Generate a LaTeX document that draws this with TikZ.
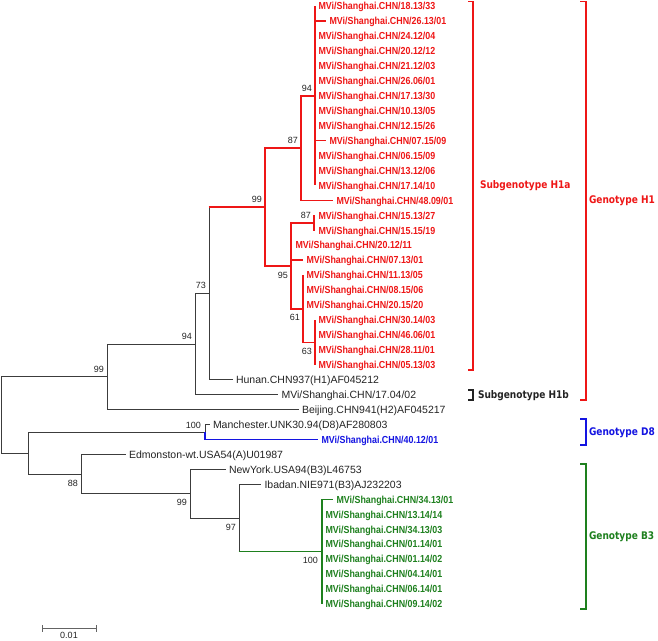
\documentclass[tikz,border=0pt]{standalone}
\usepackage{fontspec}
\usetikzlibrary{calc}
\setmainfont{Liberation Sans}
\newfontfamily\leaffont{Liberation Sans}
\newfontfamily\boldnarrow[FakeStretch=0.87]{Liberation Sans}
\newfontfamily\grpfont[FakeStretch=0.86]{DejaVu Sans}
\definecolor{tred}{RGB}{238,22,22}
\definecolor{tblue}{RGB}{20,20,225}
\definecolor{tgreen}{RGB}{30,128,30}
\definecolor{tline}{RGB}{60,60,60}
\definecolor{ttext}{RGB}{35,35,35}
\definecolor{tscale}{RGB}{100,100,100}
\begin{document}
\begin{tikzpicture}[x=1pt,y=-1pt,
  blk/.style={draw=tline,line width=0.9pt},
  redl/.style={draw=tred,line width=1.6pt},
  bluel/.style={draw=tblue,line width=1.2pt},
  greenl/.style={draw=tgreen,line width=1.4pt},
  leaf/.style={anchor=west,inner xsep=3.5pt,inner ysep=0pt,outer sep=0pt,text height=7.5pt,text depth=0pt},
  bk/.style={leaf,text=ttext,font=\leaffont\fontsize{10.5}{12}\selectfont},
  rb/.style={leaf,text=tred,font=\boldnarrow\bfseries\fontsize{10.2}{12}\selectfont},
  bb/.style={rb,text=tblue},
  gb/.style={rb,text=tgreen},
  bsnum/.style={inner sep=0pt,outer sep=0pt,text=ttext,font=\leaffont\fontsize{9}{10}\selectfont,text height=6.4pt,text depth=0pt},
  bsup/.style={bsnum,anchor=south east},
  bsdn/.style={bsnum,anchor=north east},
  grp/.style={anchor=west,inner sep=0pt,outer sep=0pt,font=\grpfont\bfseries\fontsize{10.5}{12}\selectfont,text height=7.6pt,text depth=0pt},
  brk/.style={line width=1.5pt}
]
\useasboundingbox (0,0) rectangle (658,640);

% internal nodes
\coordinate (root) at (1.5,415.0);
\coordinate (nX) at (28,453.1);
\coordinate (n99b) at (107,376.8);
\coordinate (n94b) at (195,344.0);
\coordinate (n73) at (209,293.3);
\coordinate (n99a) at (265,206.9);
\coordinate (n87a) at (301,148.0);
\coordinate (n94) at (315,95.7);
\coordinate (n95) at (291,265.8);
\coordinate (n87b) at (314,222.8);
\coordinate (n61) at (303,308.75);
\coordinate (n63) at (315,342.4);
\coordinate (nD8) at (205,432.1);
\coordinate (n88) at (81,474.1);
\coordinate (n99c) at (190,493.7);
\coordinate (n97) at (239,518.0);
\coordinate (nB3) at (322,551.7);

% leaves
\node[rb] (l0) at (315,6.0) {MVi/Shanghai.CHN/18.13/33};
\node[rb] (l1) at (326,20.95) {MVi/Shanghai.CHN/26.13/01};
\node[rb] (l2) at (315,35.9) {MVi/Shanghai.CHN/24.12/04};
\node[rb] (l3) at (315,50.85) {MVi/Shanghai.CHN/20.12/12};
\node[rb] (l4) at (315,65.8) {MVi/Shanghai.CHN/21.12/03};
\node[rb] (l5) at (315,80.75) {MVi/Shanghai.CHN/26.06/01};
\node[rb] (l6) at (315,95.7) {MVi/Shanghai.CHN/17.13/30};
\node[rb] (l7) at (315,110.65) {MVi/Shanghai.CHN/10.13/05};
\node[rb] (l8) at (315,125.6) {MVi/Shanghai.CHN/12.15/26};
\node[rb] (l9) at (326,140.55) {MVi/Shanghai.CHN/07.15/09};
\node[rb] (l10) at (315,155.5) {MVi/Shanghai.CHN/06.15/09};
\node[rb] (l11) at (315,170.45) {MVi/Shanghai.CHN/13.12/06};
\node[rb] (l12) at (315,185.4) {MVi/Shanghai.CHN/17.14/10};
\node[rb] (l13) at (333,200.35) {MVi/Shanghai.CHN/48.09/01};
\node[rb] (l14) at (315,215.3) {MVi/Shanghai.CHN/15.13/27};
\node[rb] (l15) at (315,230.25) {MVi/Shanghai.CHN/15.15/19};
\node[rb] (l16) at (292,245.2) {MVi/Shanghai.CHN/20.12/11};
\node[rb] (l17) at (303,260.15) {MVi/Shanghai.CHN/07.13/01};
\node[rb] (l18) at (303,275.1) {MVi/Shanghai.CHN/11.13/05};
\node[rb] (l19) at (303,290.05) {MVi/Shanghai.CHN/08.15/06};
\node[rb] (l20) at (303,305.0) {MVi/Shanghai.CHN/20.15/20};
\node[rb] (l21) at (315,319.95) {MVi/Shanghai.CHN/30.14/03};
\node[rb] (l22) at (315,334.9) {MVi/Shanghai.CHN/46.06/01};
\node[rb] (l23) at (315,349.85) {MVi/Shanghai.CHN/28.11/01};
\node[rb] (l24) at (315,364.8) {MVi/Shanghai.CHN/05.13/03};
\node[bk] (l25) at (232.5,379.75) {Hunan.CHN937(H1)AF045212};
\node[bk] (l26) at (278,394.7) {MVi/Shanghai.CHN/17.04/02};
\node[bk] (l27) at (298.5,409.65) {Beijing.CHN941(H2)AF045217};
\node[bk] (l28) at (209.5,424.6) {Manchester.UNK30.94(D8)AF280803};
\node[bb] (l29) at (318,439.55) {MVi/Shanghai.CHN/40.12/01};
\node[bk] (l30) at (125.5,454.5) {Edmonston-wt.USA54(A)U01987};
\node[bk] (l31) at (225.5,469.45) {NewYork.USA94(B3)L46753};
\node[bk] (l32) at (261,484.4) {Ibadan.NIE971(B3)AJ232203};
\node[gb] (l33) at (333,499.35) {MVi/Shanghai.CHN/34.13/01};
\node[gb] (l34) at (322,514.3) {MVi/Shanghai.CHN/13.14/14};
\node[gb] (l35) at (322,529.25) {MVi/Shanghai.CHN/34.13/03};
\node[gb] (l36) at (322,544.2) {MVi/Shanghai.CHN/01.14/01};
\node[gb] (l37) at (322,559.15) {MVi/Shanghai.CHN/01.14/02};
\node[gb] (l38) at (322,574.1) {MVi/Shanghai.CHN/04.14/01};
\node[gb] (l39) at (322,589.05) {MVi/Shanghai.CHN/06.14/01};
\node[gb] (l40) at (322,604.0) {MVi/Shanghai.CHN/09.14/02};

% branches, H1a clade
\foreach \i in {0,...,12} \draw[redl] (n94) |- (l\i.west);
\draw[redl] (n87a) |- (n94);
\draw[redl] (n87a) |- (l13.west);
\draw[redl] (n99a) |- (n87a);
\draw[redl] (n99a) |- (n95);
\draw[redl] (n95) |- (n87b);
\draw[redl] (n95) |- (l16.west);
\draw[redl] (n95) |- (l17.west);
\draw[redl] (n95) |- (n61);
\foreach \i in {14,15} \draw[redl] (n87b) |- (l\i.west);
\foreach \i in {18,19,20} \draw[redl] (n61) |- (l\i.west);
\draw[redl] (n61) |- (n63);
\foreach \i in {21,...,24} \draw[redl] (n63) |- (l\i.west);
\draw[blk] (n73) -- (n73 |- n99a);
\draw[redl] ([xshift=-0.45pt]n73 |- n99a) -- (n99a);

% rest of the tree
\draw[blk] (n73) |- (l25.west);
\draw[blk] (n94b) |- (n73);
\draw[blk] (n94b) |- (l26.west);
\draw[blk] (n99b) |- (n94b);
\draw[blk] (n99b) |- (l27.west);
\draw[blk] (root) |- (n99b);
\draw[blk] (root) |- (nX);
\draw[blk] (nX) |- (nD8);
\draw[blk] (nX) |- (n88);
\draw[blk] (nD8) |- (l28.west);
\draw[bluel] (nD8) |- (l29.west);
\draw[blk] (n88) |- (l30.west);
\draw[blk] (n88) |- (n99c);
\draw[blk] (n99c) |- (l31.west);
\draw[blk] (n99c) |- (n97);
\draw[blk] (n97) |- (l32.west);
\draw[blk] (n97) -- (n97 |- nB3);
\draw[greenl] ([xshift=-0.45pt]n97 |- nB3) -- (nB3);
\foreach \i in {33,...,40} \draw[greenl] (nB3) |- (l\i.west);

% bootstrap values
\node[bsup] (b94a) at ([shift={(-3pt,4.5pt)}]n94) {94};
\node[bsup] (b87a) at ([shift={(-3pt,4.5pt)}]n87a) {87};
\node[bsup] (b99a) at ([shift={(-3pt,4.5pt)}]n99a) {99};
\node[bsup] (b73) at ([shift={(-3pt,4.5pt)}]n73) {73};
\node[bsup] (b94b) at ([shift={(-3pt,4.5pt)}]n94b) {94};
\node[bsup] (b99b) at ([shift={(-3pt,4.5pt)}]n99b) {99};
\node[bsup] (b87b) at ([shift={(-3pt,4.5pt)}]n87b) {87};
\node[bsup] (b100a) at ([shift={(-4pt,4pt)}]nD8) {100};
\node[bsdn] (b95) at ([shift={(-3pt,-5.8pt)}]n95) {95};
\node[bsdn] (b61) at ([shift={(-3pt,-5.8pt)}]n61) {61};
\node[bsdn] (b63) at ([shift={(-3pt,-5.8pt)}]n63) {63};
\node[bsdn] (b88) at ([shift={(-3pt,-5.8pt)}]n88) {88};
\node[bsdn] (b99c) at ([shift={(-3pt,-5.8pt)}]n99c) {99};
\node[bsdn] (b97) at ([shift={(-3pt,-5.8pt)}]n97) {97};
\node[bsdn] (b100b) at ([shift={(-4pt,-5.8pt)}]nB3) {100};

% group brackets
\draw[brk,tred] (468,1.5) -- (473,1.5) -- (473,370) -- (468,370);
\node[grp,text=tred] (gH1a) at (480,185) {Subgenotype H1a};
\draw[brk,ttext] (468,390) -- (473,390) -- (473,400) -- (468,400);
\node[grp,text=ttext] (gH1b) at (478,394.5) {Subgenotype H1b};
\draw[brk,tred] (580,1.5) -- (586,1.5) -- (586,400) -- (580,400);
\node[grp,text=tred] (gH1) at (589,200) {Genotype H1};
\draw[brk,tblue] (580,419) -- (586,419) -- (586,445) -- (580,445);
\node[grp,text=tblue] (gD8) at (589,432) {Genotype D8};
\draw[brk,tgreen] (580,464) -- (586,464) -- (586,609) -- (580,609);
\node[grp,text=tgreen] (gB3) at (589,536) {Genotype B3};

% scale bar
\coordinate (sa) at (42,628);
\coordinate (sb) at (96,628);
\draw[draw=tscale,line width=1pt] (sa) -- (sb);
\draw[draw=tscale,line width=0.9pt] ([yshift=-3.5pt]sa) -- ([yshift=3.5pt]sa);
\draw[draw=tscale,line width=0.9pt] ([yshift=-3.5pt]sb) -- ([yshift=3.5pt]sb);
\node[bsnum,anchor=north] (sl) at ([yshift=-4pt]$(sa)!0.5!(sb)$) {0.01};
\end{tikzpicture}
\end{document}
